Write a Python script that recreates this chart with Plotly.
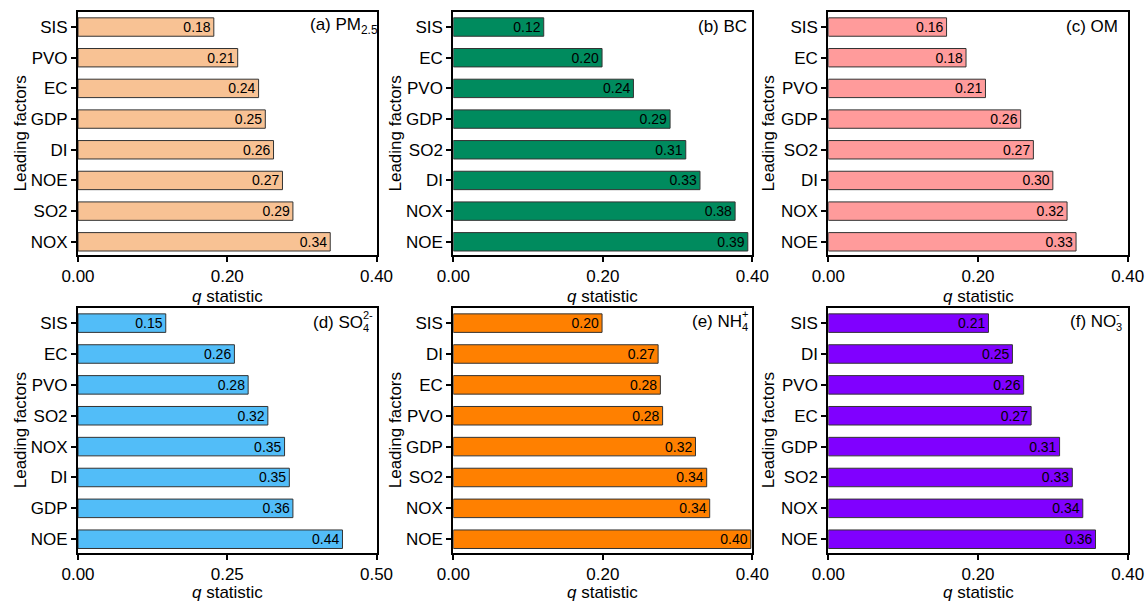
import plotly.graph_objects as go

# ---------------- data ----------------
cats_a = ["SIS", "PVO", "EC", "GDP", "DI", "NOE", "SO2", "NOX"]
vals_a = [0.182, 0.214, 0.242, 0.251, 0.262, 0.274, 0.288, 0.338]

cats_b = ["SIS", "EC", "PVO", "GDP", "SO2", "DI", "NOX", "NOE"]
vals_b = [0.121, 0.199, 0.241, 0.290, 0.311, 0.330, 0.377, 0.394]

cats_c = ["SIS", "EC", "PVO", "GDP", "SO2", "DI", "NOX", "NOE"]
vals_c = [0.158, 0.184, 0.210, 0.257, 0.274, 0.300, 0.319, 0.331]

cats_d = ["SIS", "EC", "PVO", "SO2", "NOX", "DI", "GDP", "NOE"]
vals_d = [0.147, 0.262, 0.285, 0.318, 0.346, 0.354, 0.360, 0.443]

cats_e = ["SIS", "DI", "EC", "PVO", "GDP", "SO2", "NOX", "NOE"]
vals_e = [0.199, 0.274, 0.277, 0.280, 0.324, 0.339, 0.343, 0.398]

cats_f = ["SIS", "DI", "PVO", "EC", "GDP", "SO2", "NOX", "NOE"]
vals_f = [0.214, 0.246, 0.261, 0.271, 0.309, 0.326, 0.340, 0.357]

ticks_04 = [0.0, 0.2, 0.4]
ticktext_04 = ["0.00", "0.20", "0.40"]
ticks_05 = [0.0, 0.25, 0.5]
ticktext_05 = ["0.00", "0.25", "0.50"]

colors = ["#F8C294", "#008B5E", "#FF9B9B", "#52BDF8", "#FF8000", "#8000FF"]

x_title = "<i>q</i> statistic"
y_title = "Leading factors"

# ---------------- layout geometry (pixels) ----------------
W, H = 1148, 605
FONT = "Arial, 'Liberation Sans', sans-serif"

col_px = [(78, 376.5), (453.3, 752.3), (828.3, 1127.7)]
row_px = [(12, 255), (308, 552.5)]
ytitle_x = [20, 395, 768]
xtitle_y = [296, 592]

panels = [
    (cats_a, vals_a, ticks_04, ticktext_04, 0.4),
    (cats_b, vals_b, ticks_04, ticktext_04, 0.4),
    (cats_c, vals_c, ticks_04, ticktext_04, 0.4),
    (cats_d, vals_d, ticks_05, ticktext_05, 0.5),
    (cats_e, vals_e, ticks_04, ticktext_04, 0.4),
    (cats_f, vals_f, ticks_04, ticktext_04, 0.4),
]

fig = go.Figure()
layout = dict(
    width=W, height=H, autosize=False,
    margin=dict(l=0, r=0, t=0, b=0, pad=0, autoexpand=False),
    paper_bgcolor="white", plot_bgcolor="white",
    showlegend=False,
    font=dict(family=FONT, color="black", size=17),
)
annotations = []


def px_x(x):
    return x / W


def px_y(y):
    return 1 - y / H


for i, (cats, vals, tv, tt, xmax) in enumerate(panels):
    r, c = divmod(i, 3)
    n = i + 1
    xa = "x" if n == 1 else f"x{n}"
    ya = "y" if n == 1 else f"y{n}"
    fig.add_trace(go.Bar(
        x=vals, y=cats, orientation="h",
        xaxis=xa, yaxis=ya,
        marker=dict(color=colors[i], line=dict(color="#333333", width=1)),
        width=0.6,
        texttemplate="%{x:.2f}",
        textposition="inside",
        insidetextanchor="end",
        textangle=0,
        insidetextfont=dict(family=FONT, size=14, color="black"),
        constraintext="none",
        hoverinfo="skip",
    ))
    x0, x1 = col_px[c]
    y0, y1 = row_px[r]
    axis_common = dict(
        showline=True, linewidth=2, linecolor="black", mirror=True,
        ticks="outside", ticklen=5, tickwidth=1.5, tickcolor="black",
        showgrid=False, zeroline=False, automargin=False,
        tickfont=dict(family=FONT, size=17, color="black"),
    )
    layout["xaxis" if n == 1 else f"xaxis{n}"] = dict(
        domain=[px_x(x0), px_x(x1)], anchor=ya,
        range=[0, xmax], tickvals=tv, ticktext=tt, **axis_common,
    )
    layout["yaxis" if n == 1 else f"yaxis{n}"] = dict(
        domain=[px_y(y1), px_y(y0)], anchor=xa,
        type="category", categoryorder="array", categoryarray=cats,
        range=[7.43, -0.49], **axis_common,
    )
    # axis titles
    annotations.append(dict(
        text=x_title, xref="paper", yref="paper",
        x=px_x((x0 + x1) / 2), y=px_y(xtitle_y[r]),
        xanchor="center", yanchor="middle", showarrow=False,
        font=dict(family=FONT, size=17, color="black"),
    ))
    annotations.append(dict(
        text=y_title, xref="paper", yref="paper",
        x=px_x(ytitle_x[c]), y=px_y((y0 + y1) / 2),
        xanchor="center", yanchor="middle", showarrow=False, textangle=-90,
        font=dict(family=FONT, size=17, color="black"),
    ))


# ---------------- panel labels ----------------
def lab(text, x, y, anchor="right", size=17):
    annotations.append(dict(
        text=text, xref="paper", yref="paper",
        x=px_x(x), y=px_y(y), xanchor=anchor, yanchor="middle",
        showarrow=False, borderpad=0, borderwidth=0,
        font=dict(family=FONT, size=size, color="black"),
    ))


lab("(a) PM<sub>2.5</sub>", 378, 26)
lab("(b) BC", 747, 26)
lab("(c) OM", 1118, 26)

# stacked super/subscripts
lab("(d) SO", 363, 322)
lab("2-", 363, 315, anchor="left", size=11)
lab("4", 363, 328, anchor="left", size=11)

lab("(e) NH", 742, 321)
lab("+", 742, 314, anchor="left", size=11)
lab("4", 742, 327, anchor="left", size=11)

lab("(f) NO", 1116, 321)
lab("-", 1116, 314, anchor="left", size=11)
lab("3", 1116, 327, anchor="left", size=11)

layout["annotations"] = annotations
fig.update_layout(**layout)
fig.write_html("out.html")
